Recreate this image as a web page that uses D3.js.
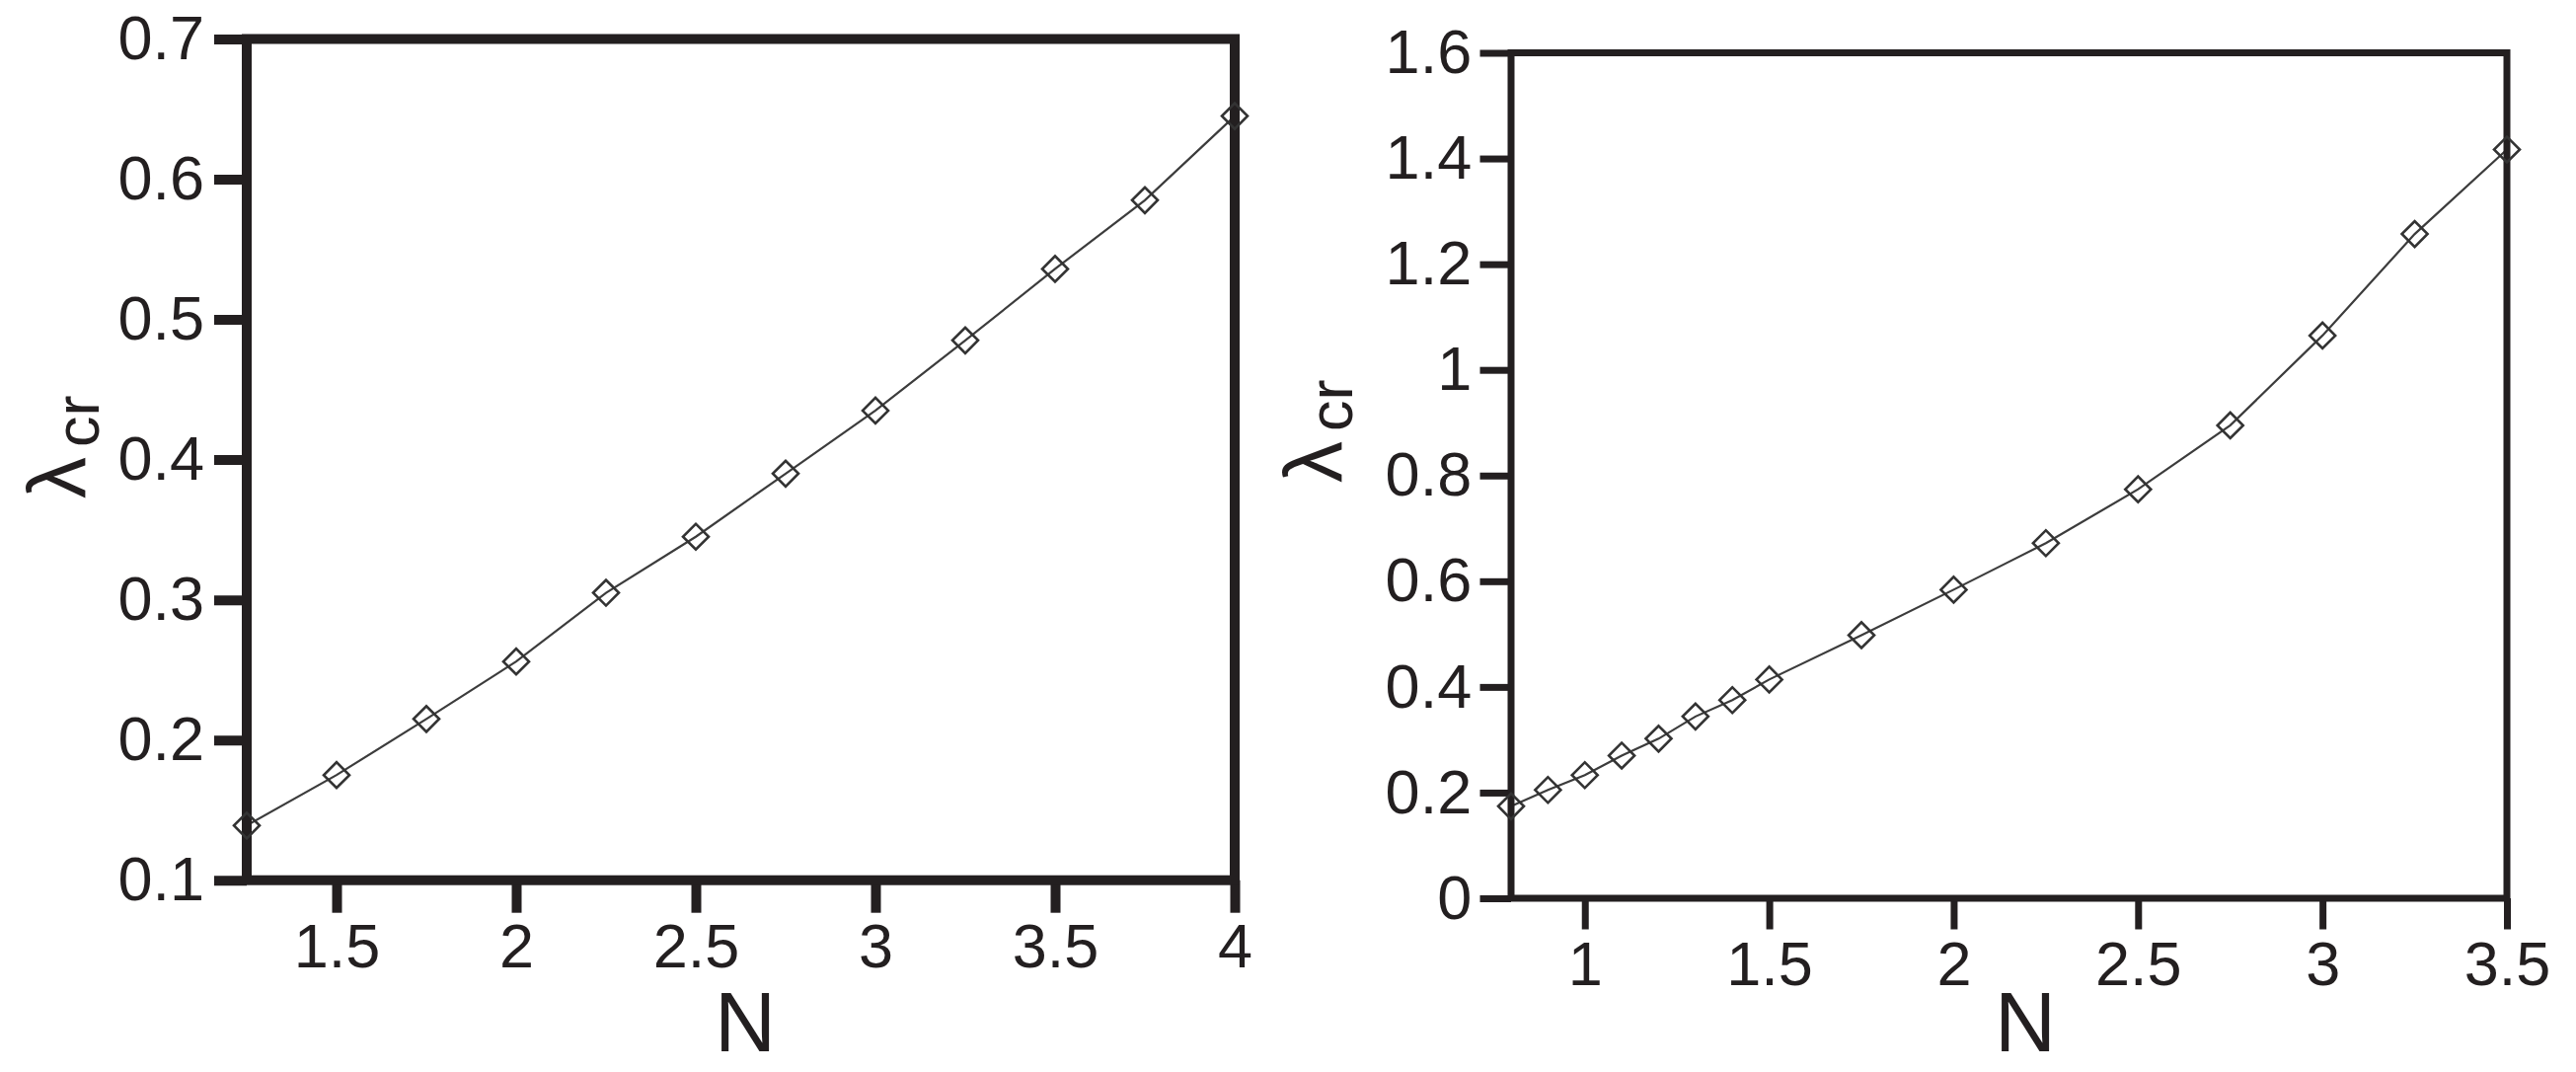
<!DOCTYPE html>
<html>
<head>
<meta charset="utf-8">
<script src="https://cdn.jsdelivr.net/npm/d3@7/dist/d3.min.js"></script>
<style>
  html, body { margin: 0; padding: 0; background: #ffffff; }
  svg { display: block; }
  text { font-family: "Liberation Sans", Arial, Helvetica, sans-serif; fill: #231f20; }
</style>
</head>
<body>
<svg id="chart" width="2610" height="1086"></svg>
<script>
// ---------- data ----------
const leftN       = [1.25, 1.5, 1.75, 2, 2.25, 2.5, 2.75, 3, 3.25, 3.5, 3.75, 4];
const leftLambda  = [0.139, 0.175, 0.215, 0.256, 0.305, 0.345, 0.390, 0.435, 0.485, 0.536, 0.585, 0.645];
const leftXTicks  = [1.5, 2, 2.5, 3, 3.5, 4];
const leftYTicks  = [0.1, 0.2, 0.3, 0.4, 0.5, 0.6, 0.7];

const rightN      = [0.8, 0.9, 1.0, 1.1, 1.2, 1.3, 1.4, 1.5, 1.75, 2, 2.25, 2.5, 2.75, 3, 3.25, 3.5];
const rightLambda = [0.174, 0.205, 0.233, 0.270, 0.302, 0.344, 0.375, 0.414, 0.498, 0.584, 0.672, 0.774, 0.895, 1.065, 1.257, 1.417];
const rightXTicks = [1, 1.5, 2, 2.5, 3, 3.5];
const rightYTicks = [0, 0.2, 0.4, 0.6, 0.8, 1, 1.2, 1.4, 1.6];

const xTitle = "N";
const yTitleMain = "λ";
const yTitleSub = "cr";

// ---------- layout ----------
const INK = "#231f20";
const svg = d3.select("#chart");
const fmt = d3.format("~g");

const panels = [
  {
    N: leftN, L: leftLambda, xTicks: leftXTicks, yTicks: leftYTicks,
    xDomain: [1.25, 4], yDomain: [0.1, 0.7],
    left: 250, right: 1251, top: 39.5, bottom: 891.7,
    frameW: 10, tickLen: 28, tickW: 10,
    xPad: 10.6, yPad: 10,
    xTitleX: 755, xTitleY: 1065,
    yTitleX: 87, yTitleY: 505, subShift: 13
  },
  {
    N: rightN, L: rightLambda, xTicks: rightXTicks, yTicks: rightYTicks,
    xDomain: [0.8, 3.5], yDomain: [0, 1.6],
    left: 1531, right: 2540, top: 53.5, bottom: 910,
    frameW: 7, tickLen: 28, tickW: 7,
    xPad: 11.8, yPad: 8.3,
    xTitleX: 2052, xTitleY: 1065,
    yTitleX: 1360, yTitleY: 489, subShift: 10
  }
];

panels.forEach(p => {
  const x = d3.scaleLinear().domain(p.xDomain).range([p.left, p.right]);
  const y = d3.scaleLinear().domain(p.yDomain).range([p.bottom, p.top]);
  const g = svg.append("g");
  const half = p.frameW / 2;

  // x axis
  const xa = g.append("g")
    .attr("transform", `translate(0,${p.bottom})`)
    .call(d3.axisBottom(x).tickValues(p.xTicks).tickFormat(fmt)
      .tickSize(half + p.tickLen).tickSizeOuter(0).tickPadding(p.xPad));
  xa.select(".domain").remove();
  xa.selectAll(".tick line").attr("stroke", INK).attr("stroke-width", p.tickW);
  xa.selectAll(".tick text").attr("font-size", 63).attr("fill", INK)
    .style("font-family", '"Liberation Sans", Arial, sans-serif');

  // y axis
  const ya = g.append("g")
    .attr("transform", `translate(${p.left},0)`)
    .call(d3.axisLeft(y).tickValues(p.yTicks).tickFormat(fmt)
      .tickSize(half + p.tickLen).tickSizeOuter(0).tickPadding(p.yPad));
  ya.select(".domain").remove();
  ya.selectAll(".tick line").attr("stroke", INK).attr("stroke-width", p.tickW);
  ya.selectAll(".tick text").attr("font-size", 63).attr("fill", INK)
    .style("font-family", '"Liberation Sans", Arial, sans-serif');

  // data line
  const pts = p.N.map((n, i) => [n, p.L[i]]);
  g.append("path")
    .datum(pts)
    .attr("fill", "none")
    .attr("stroke", "#3c3c3c")
    .attr("stroke-width", 2.2)
    .attr("d", d3.line().x(d => x(d[0])).y(d => y(d[1])));

  // frame
  g.append("rect")
    .attr("x", p.left).attr("y", p.top)
    .attr("width", p.right - p.left).attr("height", p.bottom - p.top)
    .attr("fill", "none").attr("stroke", INK).attr("stroke-width", p.frameW);

  // markers (hollow diamonds)
  const sym = d3.symbol().type(d3.symbolDiamond2).size(450);
  g.selectAll("path.mk")
    .data(pts)
    .join("path")
    .attr("class", "mk")
    .attr("transform", d => `translate(${x(d[0])},${y(d[1])}) rotate(45) scale(1)`)
    .attr("d", d3.symbol().type(d3.symbolSquare2).size(430))
    .attr("fill", "none")
    .attr("stroke", "#333")
    .attr("stroke-width", 2.6);

  // x title
  g.append("text")
    .attr("x", p.xTitleX).attr("y", p.xTitleY)
    .attr("text-anchor", "middle")
    .attr("font-size", 86)
    .text(xTitle);

  // y title (rotated)
  const t = g.append("text")
    .attr("transform", `translate(${p.yTitleX},${p.yTitleY}) rotate(-90)`)
    .attr("text-anchor", "start");
  t.append("tspan").attr("font-size", 84).text(yTitleMain);
  t.append("tspan").attr("font-size", 63).attr("dx", 10).attr("dy", p.subShift).text(yTitleSub);
});
</script>
</body>
</html>
